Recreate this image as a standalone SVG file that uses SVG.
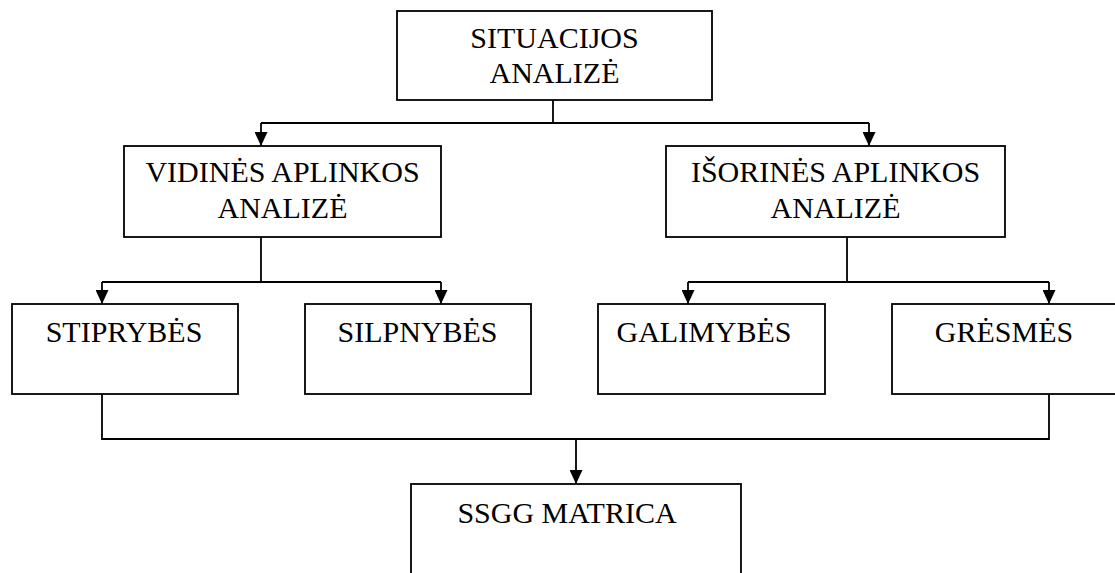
<svg xmlns="http://www.w3.org/2000/svg" width="1115" height="573" viewBox="0 0 1115 573">
  <style>
    .box { fill: #ffffff; stroke: #000000; stroke-width: 1.8; }
    .lbl { font-family: "Liberation Serif", "Times New Roman", serif; font-size: 30px; fill: #000000; text-anchor: middle; }
    .wire { fill: none; stroke: #000000; stroke-width: 1.8; }
    .arr { marker-end: url(#head); }
  </style>
  <defs>
    <marker id="head" markerUnits="userSpaceOnUse" markerWidth="14" markerHeight="13" refX="14" refY="6.5" orient="auto">
      <path d="M0,0 L14,6.5 L0,13 z" fill="#000000"/>
    </marker>
  </defs>
  <rect width="1115" height="573" fill="#ffffff"/>

  <g id="connectors">
    <!-- top level split -->
    <path class="wire" d="M553,100 V123"/>
    <path class="wire" d="M261,123 H869"/>
    <path class="wire arr" d="M261,123 V146"/>
    <path class="wire arr" d="M869,123 V146"/>
    <!-- internal analysis split -->
    <path class="wire" d="M261,237 V282"/>
    <path class="wire" d="M102,282 H441"/>
    <path class="wire arr" d="M102,282 V304"/>
    <path class="wire arr" d="M441,282 V304"/>
    <!-- external analysis split -->
    <path class="wire" d="M847,237 V282"/>
    <path class="wire" d="M688,282 H1049"/>
    <path class="wire arr" d="M688,282 V304"/>
    <path class="wire arr" d="M1049,282 V304"/>
    <!-- merge into matrix -->
    <path class="wire" d="M102,394 V439 H1049 V394"/>
    <path class="wire arr" d="M576,439 V484"/>
  </g>

  <g id="situacijos">
    <rect class="box" x="397" y="11" width="315" height="89"/>
    <text class="lbl" x="554.5" y="47.5">SITUACIJOS</text>
    <text class="lbl" x="554.5" y="83">ANALIZĖ</text>
  </g>

  <g id="vidines">
    <rect class="box" x="124" y="146" width="317" height="91"/>
    <text class="lbl" x="282.5" y="182">VIDINĖS APLINKOS</text>
    <text class="lbl" x="282.5" y="218">ANALIZĖ</text>
  </g>

  <g id="isorines">
    <rect class="box" x="666" y="146" width="339" height="91"/>
    <text class="lbl" x="835.5" y="182">IŠORINĖS APLINKOS</text>
    <text class="lbl" x="835.5" y="218">ANALIZĖ</text>
  </g>

  <g id="stiprybes">
    <rect class="box" x="12" y="304" width="226" height="90"/>
    <text class="lbl" x="124" y="342">STIPRYBĖS</text>
  </g>

  <g id="silpnybes">
    <rect class="box" x="305" y="304" width="226" height="90"/>
    <text class="lbl" x="417.5" y="342">SILPNYBĖS</text>
  </g>

  <g id="galimybes">
    <rect class="box" x="598" y="304" width="227" height="90"/>
    <text class="lbl" x="704" y="342">GALIMYBĖS</text>
  </g>

  <g id="gresmes">
    <rect class="box" x="892" y="304" width="226" height="90"/>
    <text class="lbl" x="1004" y="342">GRĖSMĖS</text>
  </g>

  <g id="ssgg">
    <rect class="box" x="411" y="484" width="330" height="100"/>
    <text class="lbl" x="567" y="523">SSGG MATRICA</text>
  </g>
</svg>
